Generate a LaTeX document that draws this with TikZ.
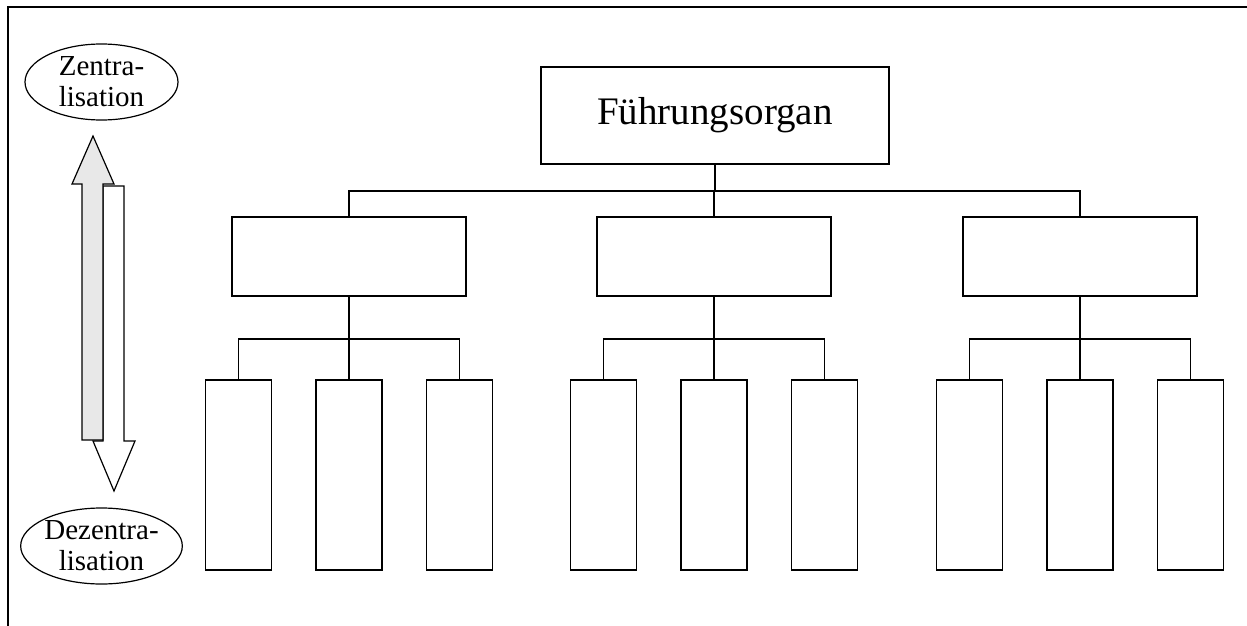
\documentclass[tikz,border=0pt]{standalone}
\usepackage{fontspec}
\setmainfont{Liberation Serif}
\usetikzlibrary{shapes.geometric}
\begin{document}
\begin{tikzpicture}[x=1pt,y=-1pt,
  line width=1.6pt,
  topbox/.style={draw,rectangle,minimum width=348pt,minimum height=97pt,inner sep=0pt,
    font=\fontsize{39}{44}\selectfont},
  unitbox/.style={draw,rectangle,minimum width=234pt,minimum height=79pt,inner sep=0pt},
  leafbox/.style={draw,rectangle,minimum width=66pt,minimum height=190pt,inner sep=0pt},
  tag/.style={draw,ellipse,minimum width=153pt,minimum height=76pt,inner sep=0pt,
    align=center,line width=1.2pt,font=\fontsize{29}{31}\selectfont},
  conn/.style={line width=1.6pt}]
\useasboundingbox (0,0) rectangle (1247,626);

% frame
\draw (8,626) -- (8,7) -- (1247,7);

% hierarchy
\node[topbox] (top) at (715,115.5) {Führungsorgan};
\foreach \g/\cx in {1/349,2/714,3/1080}{
  \node[unitbox] (m\g) at (\cx,256.5) {};
  \node[leafbox] (l\g a) at (\cx-110.5,475) {};
  \node[leafbox] (l\g b) at (\cx,475) {};
  \node[leafbox] (l\g c) at (\cx+110.5,475) {};
  \draw[conn] (top.south) -- ++(0,26) -| (m\g.north);
  \draw[conn] (m\g.south) -- ++(0,42) -| (l\g a.north);
  \draw[conn] (m\g.south) -- ++(0,42) -| (l\g c.north);
  \draw[conn] (m\g.south) -- (l\g b.north);
}

% direction labels
\node[tag] (zen) at (101.5,82) {Zentra-\\lisation};
\node[tag] (dez) at (101.5,546) {Dezentra-\\lisation};

% block arrows
\draw[line width=1.2pt,fill=white]
  (103,186) -- (124,186) -- (124,441) -- (135,441) -- (114,491)
  -- (93,441) -- (103,441) -- cycle;
\draw[line width=1.2pt,fill=black!9]
  (82,440) -- (82,184) -- (72,184) -- (93,136) -- (114,184)
  -- (103,184) -- (103,440) -- cycle;
\end{tikzpicture}
\end{document}
